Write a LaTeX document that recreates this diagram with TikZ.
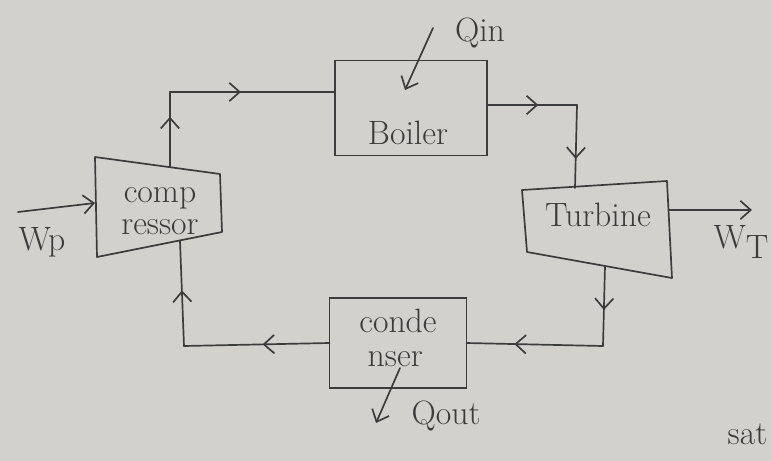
\documentclass[tikz,border=0pt]{standalone}
\usepackage{tikz}
\usetikzlibrary{arrows.meta,decorations.markings}
\definecolor{Paper}{HTML}{D3D1CD}
\definecolor{Ink}{HTML}{3C3C3C}

\tikzset{
  pipe/.style={draw=Ink, line width=1.2pt, line cap=round, line join=round},
  unit/.style={draw=Ink, line width=1.2pt, inner sep=0pt, outer sep=0pt},
  hand/.style={text=Ink, font=\fontsize{24}{26}\selectfont, inner sep=1pt},
  barb/.tip={Straight Barb[length=2.6mm,width=4.6mm,line width=1.2pt]},
  midarrow/.style={postaction={decorate},
    decoration={markings, mark=at position #1 with {\arrow{barb}}}},
}

\begin{document}
\begin{tikzpicture}[x=0.025cm, y=-0.025cm]
  \fill[Paper] (0,0) rectangle (772,461);
  \useasboundingbox (0,0) rectangle (772,461);

  % boxes
  \node[unit, minimum width=3.8cm, minimum height=2.375cm] (boiler) at (411,108) {};
  \node[hand] (boilertxt) at (408,133) {Boiler};
  \node[unit, minimum width=3.425cm, minimum height=2.25cm] (condenser) at (398,343) {};
  \node[hand, align=left] (condensertxt) at (398,338) {conde\\[-2pt]\hspace{6pt}nser};

  % compressor (pump) and turbine as trapezoids
  \coordinate (p1) at (95,157);
  \coordinate (p2) at (220,174);
  \coordinate (p3) at (222,232);
  \coordinate (p4) at (97,257);
  \draw[pipe] (p1) -- (p2) -- (p3) -- (p4) -- cycle;
  \node[hand, align=center] (compressortxt) at (160,211) {comp\\[-3pt]ressor};

  \coordinate (t1) at (522,190);
  \coordinate (t2) at (667,181);
  \coordinate (t3) at (672,278);
  \coordinate (t4) at (527,252);
  \draw[pipe] (t1) -- (t2) -- (t3) -- (t4) -- cycle;
  \node[hand] (turbinetxt) at (598,215) {Turbine};

  % ports and bends
  \coordinate (ctop) at (170,167);
  \coordinate (cbot) at (180,241);
  \coordinate (k1) at (170,92);
  \coordinate (k2) at (577,105);
  \coordinate (ttop) at (575,188);
  \coordinate (tbot) at (605,266);
  \coordinate (k3) at (603,346);
  \coordinate (k4) at (184,346);

  % working fluid loop
  \draw[pipe, midarrow=0.67] (ctop) -- (k1);
  \draw[pipe, midarrow=0.43] (k1) -- (k1 -| boiler.west);
  \draw[pipe, midarrow=0.57] (boiler.east |- k2) -- (k2);
  \draw[pipe, midarrow=0.65] (k2) -- (ttop);
  \draw[pipe, midarrow=0.55] (tbot) -- (k3);
  \draw[pipe, midarrow=0.65] (k3) -- (condenser.east);
  \draw[pipe, midarrow=0.46] (condenser.west) -- (k4);
  \draw[pipe, midarrow=0.53] (k4) -- (cbot);

  % heat and work
  \coordinate (qinfrom) at (433,28);
  \coordinate (qinto) at (405,90);
  \draw[pipe, -barb] (qinfrom) -- (qinto);
  \node[hand] (qin) at (480,33) {Qin};

  \coordinate (qoutfrom) at (400,368);
  \coordinate (qoutto) at (376,423);
  \draw[pipe, -barb] (qoutfrom) -- (qoutto);
  \node[hand] (qout) at (446,416) {Qout};

  \coordinate (wpfrom) at (18,212);
  \coordinate (wpto) at (95,203);
  \draw[pipe, -barb] (wpfrom) -- (wpto);
  \node[hand] (wp) at (42,242) {Wp};

  \coordinate (wtfrom) at (669,210);
  \coordinate (wtto) at (752,210);
  \draw[pipe, -barb] (wtfrom) -- (wtto);
  \node[hand, anchor=west] (wt) at (712,242) {W\raisebox{-7pt}{T}};

  \node[hand, anchor=west] (sat) at (726,434) {sat};
\end{tikzpicture}
\end{document}
